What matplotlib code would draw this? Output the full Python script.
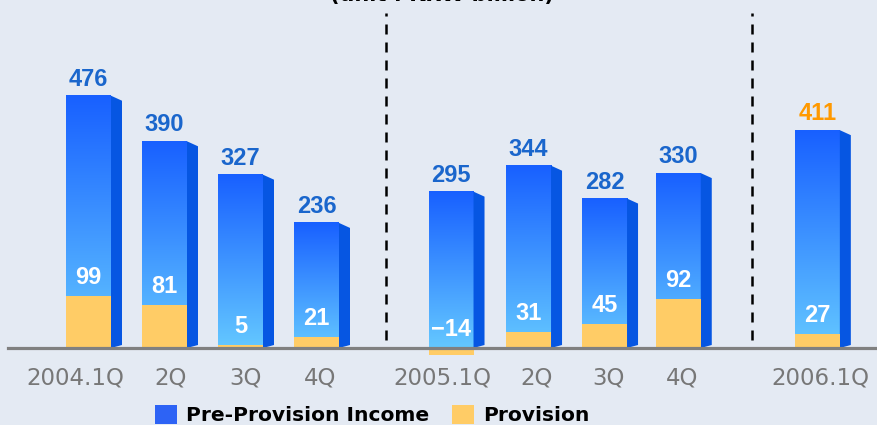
import numpy as np
import matplotlib
matplotlib.use("Agg")
import matplotlib.pyplot as plt
from matplotlib.colors import LinearSegmentedColormap
from matplotlib.patches import Polygon, Patch

# data (KRW billion)
quarters = ["2004.1Q", "2Q", "3Q", "4Q", "2005.1Q", "2Q", "3Q", "4Q", "2006.1Q"]
pre_provision = [476, 390, 327, 236, 295, 344, 282, 330, 411]
provision = [99, 81, 5, 21, -14, 31, 45, 92, 27]

# layout
xpos = [0, 1, 2, 3, 4.77, 5.79, 6.79, 7.76, 9.59]
label_shift = [-0.18, 0.08, 0.07, 0.05, -0.11, 0.11, 0.05, 0.05, 0.04]
dividers = [3.908, 8.73]

BG = "#e4eaf3"
BLUE_TOP = "#1860ff"
BLUE_BOT = "#64c8ff"
SIDE = "#0656e2"
YELLOW = "#ffcc66"

PX_X = 76.0   # pixels per x unit
PX_Y = 0.53   # pixels per value unit

fig = plt.figure(figsize=(8.78, 4.25), dpi=100, facecolor=BG)
ax = fig.add_axes([0, 0, 1, 1])
ax.set_facecolor(BG)
ax.axis("off")

xlim = (-88.5 / PX_X, (878 - 88.5) / PX_X)
ylim = (-77 / PX_Y, 348 / PX_Y)

cmap = LinearSegmentedColormap.from_list("bluegrad", [BLUE_BOT, BLUE_TOP])
grad = np.linspace(0, 1, 256).reshape(-1, 1)

w = 45 / PX_X
side_w = 11 / PX_X
drop_top = 5 / PX_Y
rise_bot = 3 / PX_Y

for x, v in zip(xpos, pre_provision):
    x0, x1 = x - w / 2, x + w / 2
    ax.imshow(grad, extent=[x0, x1, 0, v], origin="lower", aspect="auto",
              cmap=cmap, zorder=2, interpolation="bilinear")
    side = Polygon([(x1, 0), (x1, v), (x1 + side_w, v - drop_top),
                    (x1 + side_w, rise_bot)], closed=True, color=SIDE,
                   lw=0, zorder=2)
    ax.add_patch(side)

ax.bar(xpos, provision, width=w, color=YELLOW, zorder=3, linewidth=0)

# baseline
ax.axhline(0, xmin=8 / 878, xmax=1, color="#808080", lw=2.3, zorder=4)

# dashed dividers
for d in dividers:
    ax.plot([d, d], [15, 632], color="black", lw=1.8,
            linestyle=(0, (4, 3.2)), zorder=1)

# value labels on top
for i, (x, v) in enumerate(zip(xpos, pre_provision)):
    col = "#ff9900" if i == len(xpos) - 1 else "#1a66cc"
    ax.annotate(str(v), (x, v), xytext=(0, 5), textcoords="offset pixels",
                ha="center", va="bottom", fontsize=17, fontweight="bold",
                family="Liberation Sans", color=col, zorder=5)

# provision labels (white, inside bar)
for x, p in zip(xpos, provision):
    txt = str(p).replace("-", "\u2212")
    ax.annotate(txt, (x, max(p, 0)), xytext=(0, 7), textcoords="offset pixels",
                ha="center", va="bottom", fontsize=17, fontweight="bold",
                family="Liberation Sans", color="white", zorder=5)

# category labels
for x, s, q in zip(xpos, label_shift, quarters):
    ax.text(x + s, -30 / PX_Y, q, ha="center", va="center", fontsize=16.5,
            color="#777777", family="DejaVu Sans", zorder=5)

ax.set_xlim(*xlim)
ax.set_ylim(*ylim)

# unit note, mostly cut off at the top edge (as in the source image)
fig.text(442 / 878, 1 - 0.5 / 425, "(unit : KRW billion)", ha="center",
         va="baseline", fontsize=15, fontweight="bold", color="black")

handles = [Patch(facecolor="#2d63f5", edgecolor="none"),
           Patch(facecolor=YELLOW, edgecolor="none")]
fig.legend(handles, ["Pre-Provision Income", "Provision"], ncol=2,
           loc="center left", bbox_to_anchor=(155 / 878, 1 - 415 / 425),
           frameon=False, prop={"family": "DejaVu Sans", "weight": "bold", "size": 14.6},
           handlelength=1.1, handleheight=1.1, handletextpad=0.45,
           columnspacing=1.1, borderpad=0, borderaxespad=0)

fig.savefig("out.png", dpi=100, facecolor=BG)
